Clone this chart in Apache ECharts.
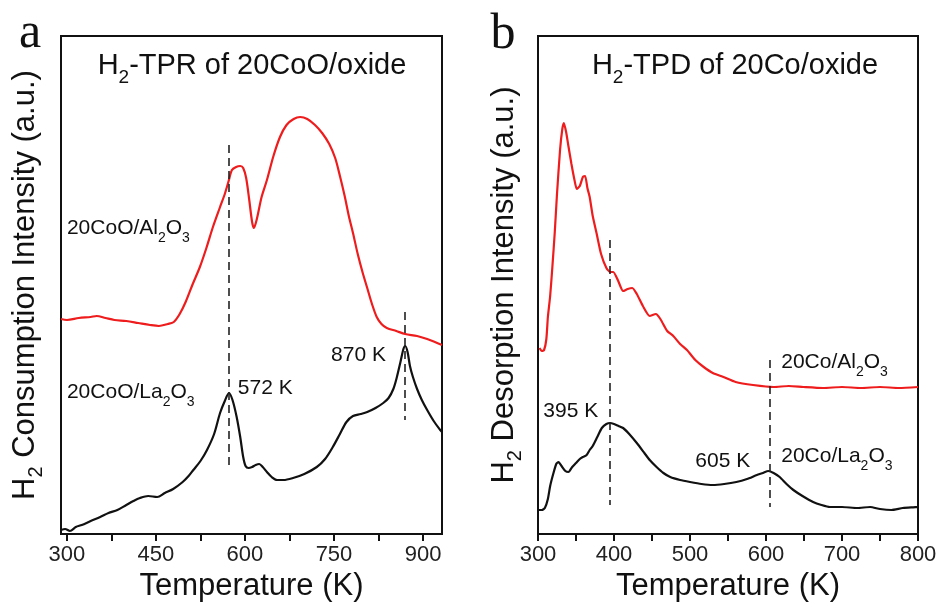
<!DOCTYPE html>
<html>
<head>
<meta charset="utf-8">
<script src="https://cdn.jsdelivr.net/npm/echarts@6/dist/echarts.min.js"></script>
<style>
  html, body { margin: 0; padding: 0; background: #fff; }
  #chart { width: 941px; height: 607px; }
</style>
</head>
<body>
<div id="chart"></div>
<script>
// panel a: H2-TPR, [temperature K, intensity a.u.]
var tprAl = [[290,215],[300,214],[320,216],[340,217],[350,218],[365,216],[380,214],[400,213],[420,211],[440,209],[455,208],[470,210],[480,212],[490,220],[500,232],[512,250],[524,267],[535,286],[546,307],[558,327],[566,340],[572,352],[578,364],[585,367],[592,368],[597,366],[602,356],[607,335],[612,312],[615,306],[620,315],[628,337],[637,354],[648,378],[659,397],[670,409],[682,415],[693,417],[705,415],[718,409],[730,401],[742,390],[752,376],[760,358],[768,338],[775,318],[782,301],[790,280],[798,262],[806,246],[814,230],[822,217],[830,210],[839,206],[855,203],[870,200],[890,198],[907,195],[920,192],[932,189]];
var tprLa = [[290,4],[297,5],[305,3],[315,7],[325,9],[340,13],[356,17],[370,21],[385,24],[400,29],[412,33],[423,36],[437,38],[452,37],[465,41],[479,45],[495,52],[505,58],[513,64],[525,73],[536,84],[548,100],[558,121],[566,133],[573,141],[579,134],[586,117],[592,97],[597,77],[601,68],[606,66],[612,67],[618,69],[624,70],[630,67],[637,62],[645,57],[654,54],[665,54],[681,56],[700,60],[721,67],[735,75],[748,87],[760,100],[771,112],[782,118],[795,120],[806,122],[820,126],[833,131],[842,136],[850,145],[856,157],[862,172],[867,185],[870,188],[874,182],[878,168],[883,157],[890,145],[898,134],[907,124],[918,113],[929,104],[932,102]];

// panel b: H2-TPD
var tpdAl = [[302,186],[305,183],[308,184],[311,195],[313,217],[316,238],[319,268],[322,301],[325,340],[329,384],[332,405],[334,411],[337,402],[340,388],[344,370],[348,354],[351,345],[355,348],[359,357],[362,358],[365,346],[368,337],[372,318],[377,301],[383,280],[390,266],[395,262],[399,262],[405,254],[412,243],[418,245],[424,246],[430,240],[438,228],[447,218],[455,220],[461,215],[470,203],[478,198],[487,190],[496,184],[507,174],[518,167],[530,161],[544,157],[560,152],[583,149],[610,147],[630,148],[649,147],[675,146],[700,147],[725,146],[750,147],[775,146],[800,147]];
var tpdLa = [[301,24],[305,24],[309,26],[313,35],[316,48],[320,60],[324,70],[327,72],[331,68],[336,63],[340,62],[345,67],[350,71],[355,75],[359,77],[364,79],[368,84],[372,88],[378,97],[384,106],[390,110],[395,111],[400,110],[406,108],[412,106],[420,100],[430,91],[440,81],[447,74],[456,67],[465,61],[474,57],[487,54],[500,52],[515,50],[530,49],[545,50],[561,52],[575,55],[588,59],[596,61],[603,63],[610,61],[618,57],[627,50],[636,44],[648,38],[662,32],[673,29],[684,27],[700,27],[720,26],[737,27],[750,25],[765,24],[780,26],[799,27]];

// tick values
var ticksA = [300, 450, 600, 750, 900];
var minorA = [300, 375, 450, 525, 600, 675, 750, 825, 900];
var ticksB = [300, 400, 500, 600, 700, 800];
var minorB = [300, 350, 400, 450, 500, 550, 600, 650, 700, 750, 800];

// dashed peak markers [x, yFrom, yTo]
var peaksA = [[572, 389, 66], [870, 222, 114]];
var peaksB = [[395, 294, 29], [605, 174, 27]];

// text annotations [x, y, text]
var notesA = [[300, 306, '20CoO/Al{s|2}O{s|3}'], [300, 142, '20CoO/La{s|2}O{s|3}'], [588, 146, '572 K'], [745, 179, '870 K']];
var notesB = [[620, 172, '20Co/Al{s|2}O{s|3}'], [307, 123, '395 K'], [507, 73, '605 K'], [620, 78, '20Co/La{s|2}O{s|3}']];

var FONT = 'Arial, "Liberation Sans", sans-serif';
var subRich = { s: { fontSize: 14, lineHeight: 12, verticalAlign: 'bottom', fontFamily: FONT, color: '#111' } };

function dashed(peaks) {
  return {
    silent: true,
    symbol: 'none',
    label: { show: false },
    lineStyle: { color: '#222', type: [8, 5], width: 1.6 },
    data: peaks.map(function (p) { return [{ coord: [p[0], p[1]] }, { coord: [p[0], p[2]] }]; })
  };
}

function notes(list) {
  return {
    silent: true,
    symbol: 'circle',
    symbolSize: 0,
    itemStyle: { color: 'transparent' },
    label: {
      show: true, position: 'right', distance: 0,
      fontSize: 21, fontFamily: FONT, color: '#111', lineHeight: 34,
      formatter: function (p) { return p.name; },
      rich: subRich
    },
    data: list.map(function (n) { return { name: n[2], coord: [n[0], n[1]] }; })
  };
}

function xAxis(idx, min, max, labels, ticks) {
  return {
    type: 'value', gridIndex: idx, min: min, max: max,
    name: 'Temperature (K)', nameLocation: 'middle', nameGap: 34,
    nameTextStyle: { fontSize: 31, fontFamily: FONT, color: '#111' },
    axisLine: { show: true, onZero: false, lineStyle: { color: '#111', width: 2 } },
    axisTick: { show: true, inside: false, length: 7, customValues: ticks, lineStyle: { color: '#111', width: 2 } },
    axisLabel: { customValues: labels, fontSize: 22, fontFamily: FONT, color: '#222', margin: 10 },
    splitLine: { show: false }
  };
}

function yAxis(idx, nameText, gap) {
  return {
    type: 'value', gridIndex: idx, min: 0, max: 498,
    name: nameText, nameLocation: 'middle', nameRotate: 90, nameGap: gap,
    nameTextStyle: { fontSize: 31, fontFamily: FONT, color: '#111', lineHeight: 42,
      rich: { s: { fontSize: 20, lineHeight: 14, verticalAlign: 'bottom', fontFamily: FONT, color: '#111' } } },
    axisLine: { show: false }, axisTick: { show: false }, axisLabel: { show: false }, splitLine: { show: false }
  };
}

function line(idx, data, color, extra) {
  var s = {
    type: 'line', xAxisIndex: idx, yAxisIndex: idx, data: data,
    showSymbol: false, smooth: 0.3, animation: false,
    lineStyle: { color: color, width: 2.2 }
  };
  for (var k in extra) s[k] = extra[k];
  return s;
}

function titleText(x, text) {
  return {
    type: 'text', x: x, y: 66,
    style: {
      text: text, fill: '#111', font: '29px ' + FONT, align: 'center', verticalAlign: 'middle',
      lineHeight: 42,
      rich: { s: { fontSize: 19, lineHeight: 14, verticalAlign: 'bottom', fontFamily: FONT, fill: '#111' } }
    }
  };
}

var chart = echarts.init(document.getElementById('chart'));
chart.setOption({
  animation: false,
  backgroundColor: '#fff',
  grid: [
    { left: 61, top: 36, width: 381, height: 498, show: true, borderColor: '#111', borderWidth: 2, containLabel: false },
    { left: 538, top: 36, width: 380, height: 498, show: true, borderColor: '#111', borderWidth: 2, containLabel: false }
  ],
  xAxis: [xAxis(0, 290, 932, ticksA, minorA), xAxis(1, 300, 800, ticksB, minorB)],
  yAxis: [yAxis(0, 'H{s|2} Consumption Intensity (a.u.)', 15), yAxis(1, 'H{s|2} Desorption Intensity (a.u.)', 13)],
  series: [
    line(0, tprAl, '#ee1c1c', { markLine: dashed(peaksA), markPoint: notes(notesA) }),
    line(0, tprLa, '#111111', {}),
    line(1, tpdAl, '#ee1c1c', { smooth: 0.2, markLine: dashed(peaksB), markPoint: notes(notesB) }),
    line(1, tpdLa, '#111111', { smooth: 0.2 })
  ],
  graphic: [
    { type: 'text', x: 30, y: 9, style: { text: 'a', fill: '#111', font: '50px "Liberation Serif", "Times New Roman", serif', align: 'center', verticalAlign: 'top' } },
    { type: 'text', x: 503, y: 10, style: { text: 'b', fill: '#111', font: '50px "Liberation Serif", "Times New Roman", serif', align: 'center', verticalAlign: 'top' } },
    titleText(252, 'H{s|2}-TPR of 20CoO/oxide'),
    titleText(735, 'H{s|2}-TPD of 20Co/oxide')
  ]
});
</script>
</body>
</html>
